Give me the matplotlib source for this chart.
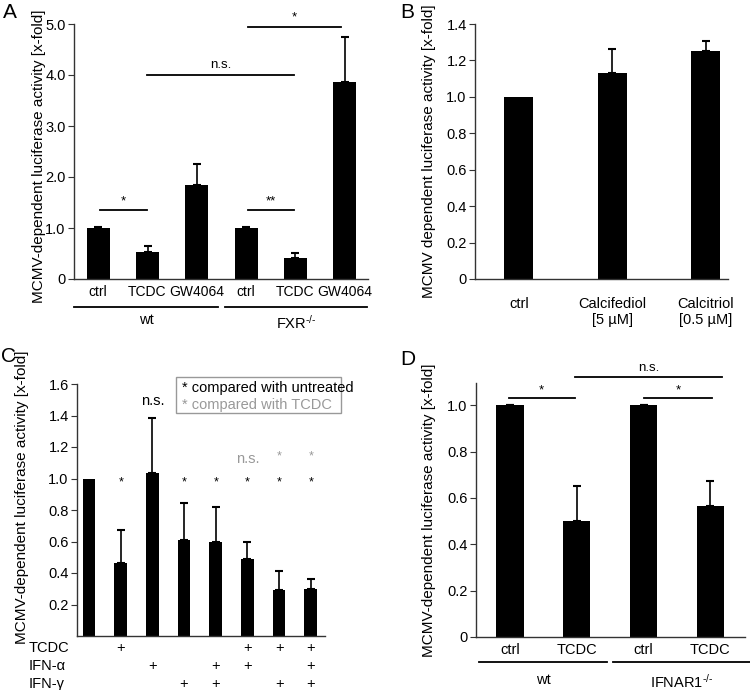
import matplotlib
matplotlib.use("Agg")
import matplotlib.pyplot as plt
from matplotlib.patches import Rectangle
from matplotlib.ticker import FuncFormatter

plt.rcParams['font.family'] = ['Liberation Sans', 'DejaVu Sans']
plt.rcParams['mathtext.fontset'] = 'custom'
plt.rcParams['mathtext.rm'] = 'Liberation Sans'
plt.rcParams['mathtext.it'] = 'Liberation Sans'
plt.rcParams['mathtext.sf'] = 'Liberation Sans'

# Panel A
a_labels = ['ctrl', 'TCDC', 'GW4064', 'ctrl', 'TCDC', 'GW4064']
a_means = [1.0, 0.52, 1.85, 1.0, 0.42, 3.86]
a_err = [0.02, 0.12, 0.41, 0.02, 0.09, 0.89]
a_groups = ['wt', r'FXR$^{\text{-/-}}$']

# Panel B
b_labels = ['ctrl', 'Calcifediol\n[5 µM]', 'Calcitriol\n[0.5 µM]']
b_means = [1.0, 1.13, 1.25]
b_err = [0.0, 0.135, 0.055]

# Panel C
c_means = [1.0, 0.465, 1.035, 0.61, 0.595, 0.49, 0.295, 0.30]
c_err = [0.0, 0.205, 0.35, 0.235, 0.225, 0.105, 0.12, 0.06]
c_tcdc = [0, 1, 0, 0, 0, 1, 1, 1]
c_ifna = [0, 0, 1, 0, 1, 1, 0, 1]
c_ifng = [0, 0, 0, 1, 1, 0, 1, 1]
c_sig_untreated = ['', '*', 'n.s.', '*', '*', '*', '*', '*']
c_sig_tcdc = ['', '', '', '', '', 'n.s.', '*', '*']

# Panel D
d_labels = ['ctrl', 'TCDC', 'ctrl', 'TCDC']
d_means = [1.0, 0.50, 1.0, 0.565]
d_err = [0.003, 0.15, 0.003, 0.11]
d_groups = ['wt', r'IFNAR1$^{\text{-/-}}$']

W, H = 750, 690
GRAY = '#999999'
AX_COL = '#333333'
YLAB_FS = 11


def axes_px(fig, left, top, right, bottom):
    return fig.add_axes([left / W, (H - bottom) / H, (right - left) / W, (bottom - top) / H])


def style(ax):
    for s in ['top', 'right']:
        ax.spines[s].set_visible(False)
    for s in ['left', 'bottom']:
        ax.spines[s].set_color(AX_COL)
        ax.spines[s].set_linewidth(1.0)
    ax.tick_params(axis='y', length=4, width=0.8, color=AX_COL, labelsize=10.5, pad=2)
    ax.tick_params(axis='x', length=0, labelsize=10.5)
    ax.yaxis.set_major_formatter(FuncFormatter(lambda v, p: '0' if abs(v) < 1e-9 else f'{v:.1f}'))


def bars(ax, x, means, err, width):
    ax.bar(x, means, width=width, color='black', zorder=2)
    # only bars with an error value get a whisker
    xe = [xi for xi, e in zip(x, err) if e > 0]
    me = [m for m, e in zip(means, err) if e > 0]
    ee = [e for e in err if e > 0]
    ax.errorbar(xe, me, yerr=[[0] * len(ee), ee], fmt='none', ecolor='black',
                elinewidth=1.2, capsize=3, capthick=1.5, zorder=3)


def sig(ax, x0, x1, y, txt, dy):
    ax.plot([x0, x1], [y, y], color='black', lw=1.3, clip_on=False)
    ax.text((x0 + x1) / 2, y + dy, txt, ha='center', va='bottom', fontsize=9.5, clip_on=False)


def group_line(ax, x0, x1, y, label, ly):
    tr = ax.get_xaxis_transform()
    ax.plot([x0, x1], [y, y], color='black', lw=1.3, transform=tr, clip_on=False)
    ax.text((x0 + x1) / 2, ly, label, transform=tr, ha='center', va='top', fontsize=10.5)


fig = plt.figure(figsize=(W / 100, H / 100), dpi=100)

# ---- A ----
ax = axes_px(fig, 74, 24, 368, 279)
style(ax)
xa = list(range(len(a_means)))
bars(ax, xa, a_means, a_err, 0.47)
ax.set_xlim(-0.49, 5.47)
ax.set_ylim(0, 5.0)
ax.set_yticks([0, 1, 2, 3, 4, 5])
ax.set_xticks(xa)
ax.set_xticklabels(a_labels)
ax.tick_params(axis='x', pad=4, labelsize=10)
ax.set_ylabel('MCMV-dependent luciferase activity [x-fold]', fontsize=YLAB_FS)
ax.yaxis.set_label_coords(-0.095, 0.48)
sig(ax, 0.04, 0.99, 1.35, '*', 0.06)
sig(ax, 0.99, 3.97, 4.0, 'n.s.', 0.08)
sig(ax, 3.04, 3.97, 1.35, '**', 0.06)
sig(ax, 3.04, 4.92, 4.95, '*', 0.06)
group_line(ax, -0.49, 2.43, -0.11, a_groups[0], -0.135)
group_line(ax, 2.57, 5.45, -0.11, a_groups[1], -0.135)
fig.text(3 / W, 1 - 3 / H, 'A', fontsize=15, ha='left', va='top')

# ---- B ----
ax = axes_px(fig, 475, 24, 728, 279)
style(ax)
xb = list(range(len(b_means)))
bars(ax, xb, b_means, b_err, 0.31)
ax.set_xlim(-0.47, 2.24)
ax.set_ylim(0, 1.4)
ax.set_yticks([0, 0.2, 0.4, 0.6, 0.8, 1.0, 1.2, 1.4])
ax.set_xticks(xb)
ax.set_xticklabels(b_labels)
ax.tick_params(axis='x', pad=13)
ax.set_ylabel('MCMV dependent luciferase activity [x-fold]', fontsize=YLAB_FS)
ax.yaxis.set_label_coords(-0.154, 0.5)
fig.text(400 / W, 1 - 3 / H, 'B', fontsize=15, ha='left', va='top')

# ---- C ----
ax = axes_px(fig, 77, 384, 325, 636)
style(ax)
xc = list(range(len(c_means)))
bars(ax, xc, c_means, c_err, 0.4)
ax.set_xlim(-0.38, 7.45)
ax.set_ylim(0, 1.6)
ax.set_yticks([0.2, 0.4, 0.6, 0.8, 1.0, 1.2, 1.4, 1.6])
ax.set_xticks([])
ax.set_ylabel('MCMV-dependent luciferase activity [x-fold]', fontsize=YLAB_FS)
ax.yaxis.set_label_coords(-0.194, 0.55)
for i, s in enumerate(c_sig_untreated):
    if s == '*':
        ax.text(i, 0.94, '*', ha='center', va='bottom', fontsize=9)
    elif s:
        ax.text(i, 1.45, s, ha='center', va='bottom', fontsize=10.5)
for i, s in enumerate(c_sig_tcdc):
    if s == '*':
        ax.text(i, 1.10, '*', ha='center', va='bottom', fontsize=9, color=GRAY)
    elif s:
        ax.text(i, 1.08, s, ha='center', va='bottom', fontsize=10.5, color=GRAY)
tr = ax.get_xaxis_transform()
rows = [('TCDC', c_tcdc, -0.048), ('IFN-α', c_ifna, -0.119), ('IFN-γ', c_ifng, -0.19)]
for name, flags, yy in rows:
    ax.text(-0.194, yy, name, transform=ax.transAxes, ha='left', va='center', fontsize=10.5)
    for i, f in enumerate(flags):
        if f:
            ax.text(i, yy, '+', transform=tr, ha='center', va='center', fontsize=10.5)
ax.add_patch(Rectangle((0.40, 0.885), 0.665, 0.143, transform=ax.transAxes, fill=False,
                       edgecolor=GRAY, lw=1.0, clip_on=False))
ax.text(0.423, 0.984, '* compared with untreated', transform=ax.transAxes, ha='left',
        va='center', fontsize=10.5)
ax.text(0.423, 0.917, '* compared with TCDC', transform=ax.transAxes, ha='left',
        va='center', fontsize=10.5, color=GRAY)
fig.text(1 / W, 1 - 347 / H, 'C', fontsize=15, ha='left', va='top')

# ---- D ----
ax = axes_px(fig, 476, 383, 745, 637)
style(ax)
xd = list(range(len(d_means)))
bars(ax, xd, d_means, d_err, 0.41)
ax.set_xlim(-0.51, 3.52)
ax.set_ylim(0, 1.096)
ax.set_yticks([0, 0.2, 0.4, 0.6, 0.8, 1.0])
ax.set_xticks(xd)
ax.set_xticklabels(d_labels)
ax.tick_params(axis='x', pad=4)
ax.set_ylabel('MCMV-dependent luciferase activity [x-fold]', fontsize=YLAB_FS)
ax.yaxis.set_label_coords(-0.149, 0.5)
sig(ax, -0.02, 0.97, 1.03, '*', 0.01)
sig(ax, 2.0, 3.03, 1.03, '*', 0.01)
sig(ax, 0.97, 3.18, 1.12, 'n.s.', 0.015)
group_line(ax, -0.46, 1.45, -0.10, d_groups[0], -0.14)
group_line(ax, 1.54, 3.6, -0.10, d_groups[1], -0.14)
fig.text(400 / W, 1 - 350 / H, 'D', fontsize=15, ha='left', va='top')

fig.savefig('out.png', dpi=100)
